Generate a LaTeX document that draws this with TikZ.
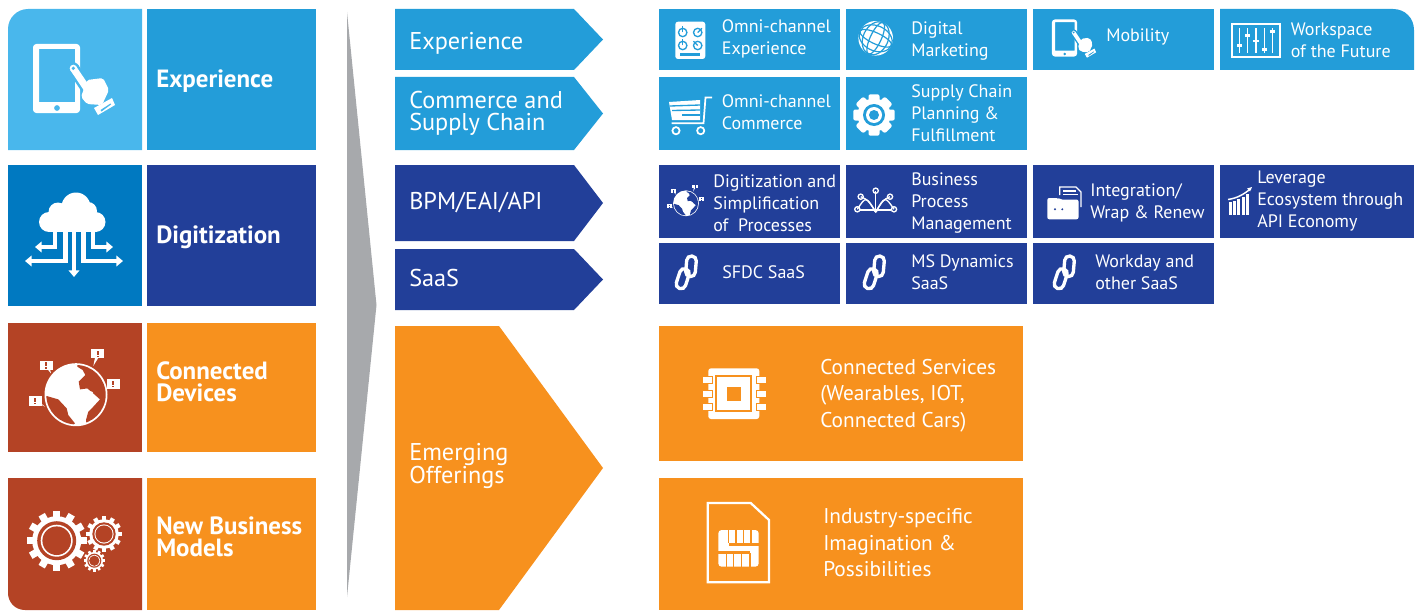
\documentclass[tikz,border=0pt]{standalone}
\usepackage{fontspec}
\setmainfont{PT Sans}
\usepackage{xcolor}
\usepackage{tikz}
\usetikzlibrary{arrows.meta}

\definecolor{lightsky}{HTML}{49B7EC}
\definecolor{skyblue}{HTML}{239DD9}
\definecolor{deepblue}{HTML}{0079C1}
\definecolor{navyblue}{HTML}{223F99}
\definecolor{rust}{HTML}{B44325}
\definecolor{amber}{HTML}{F7911E}
\definecolor{wedgegrey}{HTML}{A7A9AC}

\tikzset{
    % phone with a pointing hand, #1 is the colour behind it
    pics/phonehand/.style={code={
        \fill[white,even odd rule] [rounded corners=2.5pt] (-23.5,-34.5) rectangle (23.5,34.5) [sharp corners] (-17.5,-29.5) rectangle (18.5,23.5) (0.5,29.5) circle[radius=3];
        \fill[#1] (16.8,-10.2) circle[radius=6];
        \fill[#1] (21.8,-13.5) -- (35.2,6.5) -- (25.2,13.1) -- (11.8,-6.9) -- cycle;
        \fill[white] (16.8,-10.2) circle[radius=3.6];
        \fill[white] (19.7,-12.15) -- (33.1,7.85) -- (27.3,11.75) -- (13.9,-8.25) -- cycle;
        \fill[#1] (16.8,-10.2) circle[radius=1.8];
        \fill[white,rounded corners=1.5pt] (24.5,18.5) -- (30.5,1.5) -- (46.5,-.5) -- (52.5,11.5) -- (45.5,26.5) -- (30.5,25.5) -- cycle;
        \fill[white] (37.5,29.5) -- (55.5,19.5) -- (58.5,26.5) -- (41.5,36.5) -- cycle;
        \fill[#1] (44,31.5) -- (54,25) -- (54.5,26) -- (45,33) -- cycle;
    }},
    % earth with four small speech bubbles
    pics/alertglobe/.style={code={
        \fill[white] (0,0) circle[radius=31.5];
        \begin{scope}
            \clip (0,0) circle[radius=29.7];
            \fill[#1] (1.3,-28) -- (6.7,-24.7) -- (9.3,-19.7) -- (2.7,-13) -- (4,-5.3) -- (11.3,-6.3) -- (17.3,-1.3) -- (24,4.7) -- (17.3,12) -- (12.3,17) -- (10,25.3) -- (12,40) -- (40,30) -- (40,-40) -- (1.3,-40) -- cycle;
            \fill[#1] (-29.3,1.3) -- (-17.7,4.7) -- (-9.3,13.7) -- (-7.7,20.3) -- (-1,28.7) -- (-20,40) -- (-45,10) -- cycle;
            \fill[white] (13,5) ellipse[x radius=3.5, y radius=2];
            \fill[white] (13,-2) ellipse[x radius=4, y radius=1.6];
        \end{scope}
        \foreach \cx/\cy/\tx/\ty in {-29.7/-29.4/-25/-21.3, 21.8/-41/17.3/-28.7, 37/-10.8/30/-6, -41/6.2/-31/12} {
            \fill[white] (\cx-2,\cy) -- (\cx+3,\cy) -- (\tx,\ty) -- cycle;
            \fill[white] (\cx-6.5,\cy-4.7) rectangle (\cx+6.5,\cy+4.7);
            \fill[#1] (\cx-1,\cy-3) rectangle (\cx+1,\cy+1);
            \fill[#1] (\cx-1,\cy+1.8) rectangle (\cx+1,\cy+3.2);
        }
    }},
    % toothed wheel with a thin ring inside
    pics/cogwheel/.style={code={
        \foreach \ang in {0,30,...,330} {
            \fill[white,rotate=\ang] (-3.6,-30) rectangle (3.6,-22);
        }
        \fill[white] (0,0) circle[radius=24.5];
        \fill[#1] (0,0) circle[radius=19.5];
        \fill[white] (0,0) circle[radius=16];
        \fill[#1] (0,0) circle[radius=14.3];
    }},
    % two chain links
    pics/chainlink/.style={code={
        \draw[white,line width=2.5pt,rounded corners=3.5pt,rotate around={-5:(5,-5.7)}] (0.2,-16) rectangle (9.8,4.6);
        \draw[white,line width=2.5pt,rounded corners=3.5pt,rotate around={-18:(-3.3,6.7)}] (-8.1,-3.6) rectangle (1.5,17);
    }},
    % labels
    paneltext/.style={font=\fontsize{18.7}{16.5}\selectfont\bfseries, text=white, anchor=west, align=left, inner sep=0pt},
    chevrontext/.style={font=\fontsize{18.2}{16.5}\selectfont, text=white, anchor=west, align=left, inner sep=0pt},
    tiletext/.style={font=\fontsize{13.5}{16.5}\selectfont, text=white, anchor=west, align=left, inner sep=0pt},
    bigtiletext/.style={font=\fontsize{16}{19.9}\selectfont, text=white, anchor=west, align=left, inner sep=0pt}
}

\begin{document}
\begin{tikzpicture}[x=0.75pt, y=-0.75pt]
    \useasboundingbox (0,0) rectangle (1423,610);

    % Left panels
    \fill[lightsky] (8,150) -- (8,29) .. controls (8,18) and (17,9) .. (28,9) -- (142,9) -- (142,150) -- cycle;
    \fill[deepblue] (8,165) rectangle (142,306);
    \fill[rust] (8,323) rectangle (142,452);
    \fill[rust] (8,478) -- (142,478) -- (142,610) -- (25,610) .. controls (15,610) and (8,602) .. (8,593) -- cycle;
    \fill[skyblue] (147,9) rectangle (316,150);
    \fill[navyblue] (147,165) rectangle (316,306);
    \fill[amber] (147,323) rectangle (316,452);
    \fill[amber] (147,478) rectangle (316,610);

    \node[paneltext] (panelexp) at (156,81) {Experience};
    \node[paneltext] (paneldig) at (156,237) {Digitization};
    \node[paneltext] (panelcon) at (156,382) {Connected\\Devices};
    \node[paneltext] (panelnew) at (156,537) {New Business\\Models};

    % Left panel icons
    \pic at (56.5,78.5) {phonehand=lightsky};
    \pic at (76,394.7) {alertglobe=rust};
    \pic at (56.7,540.7) {cogwheel=rust};
    \pic[scale=0.6] at (104,534) {cogwheel=rust};
    \pic[scale=0.36] at (94.3,560.7) {cogwheel=rust};

    % Cloud
    \fill[white] (76,207) circle[radius=14.5];
    \fill[white] (58,212) circle[radius=9.5];
    \fill[white] (49,222) circle[radius=10];
    \fill[white] (95.5,222) circle[radius=10];
    \fill[white] (88,211) circle[radius=9];
    \fill[white] (49,212) rectangle (95.5,232);
    \path[draw=white, line width=3.2pt, -{Triangle[length=5pt,width=8pt]}]
        (55,230) -- (55,247) -- (35,247);
    \path[draw=white, line width=3.2pt, -{Triangle[length=5pt,width=8pt]}]
        (65.5,230) -- (65.5,261) -- (25,261);
    \path[draw=white, line width=3.2pt, -{Triangle[length=5pt,width=8pt]}]
        (74,230) -- (74,277);
    \path[draw=white, line width=3.2pt, -{Triangle[length=5pt,width=8pt]}]
        (83.5,230) -- (83.5,261) -- (123,261);
    \path[draw=white, line width=3.2pt, -{Triangle[length=5pt,width=8pt]}]
        (93,230) -- (93,247) -- (113,247);

    % Grey wedge
    \fill[wedgegrey] (347,12) -- (376.5,305) -- (347,597) -- cycle;

    % Chevrons
    \foreach \ytop/\ybot/\col in {9/70/skyblue, 77/150/skyblue, 165/241/navyblue, 249/310/navyblue} {
        \fill[\col] (395,\ytop) -- (574,\ytop) -- (603,{(\ytop+\ybot)/2}) -- (574,\ybot) -- (395,\ybot) -- cycle;
    }
    \fill[amber] (395,326) -- (499,326) -- (603,468) -- (499,610) -- (395,610) -- cycle;

    \node[chevrontext] (chevexp) at (409,43) {Experience};
    \node[chevrontext] (chevcom) at (409,113) {Commerce and\\Supply Chain};
    \node[chevrontext] (chevbpm) at (409,203) {BPM/EAI/API};
    \node[chevrontext] (chevsaas) at (409,278) {SaaS};
    \node[chevrontext] (chevemg) at (409,466) {Emerging\\Offerings};

    % Tiles
    \foreach \xa/\xb/\ya/\yb/\col in {
        659/840/9/70/skyblue, 846/1027/9/70/skyblue, 1033/1214/9/70/skyblue,
        659/840/77/150/skyblue, 846/1027/77/150/skyblue,
        659/840/165/238/navyblue, 846/1027/165/238/navyblue, 1033/1214/165/238/navyblue, 1220/1414/165/238/navyblue,
        659/840/243/304/navyblue, 846/1027/243/304/navyblue, 1033/1214/243/304/navyblue,
        659/1023/326/461/amber, 659/1023/478/610/amber} {
        \fill[\col] (\xa,\ya) rectangle (\xb,\yb);
    }
    \fill[skyblue] (1220,9) -- (1393,9) .. controls (1405,9) and (1414,18) .. (1414,30) -- (1414,70) -- (1220,70) -- cycle;

    \node[tiletext] (omniexp) at (721.6,39) {Omni-channel\\Experience};
    \node[tiletext] (digmark) at (911,41) {Digital\\Marketing};
    \node[tiletext] (mobility) at (1106,37) {Mobility};
    \node[tiletext] (workspace) at (1290.5,40) {Workspace\\of the Future};
    \node[tiletext] (omnicom) at (721.6,112) {Omni-channel\\Commerce};
    \node[tiletext] (supply) at (911,113) {Supply Chain\\Planning \&\\Fulfillment};
    \node[tiletext] (digsimp) at (713,203) {Digitization and\\Simplification\\of~~Processes};
    \node[tiletext] (bpm) at (911,203) {Business\\Process\\Management};
    \node[tiletext] (wrap) at (1090,203) {Integration/\\Wrap \& Renew};
    \node[tiletext] (leverage) at (1257,201) {Leverage\\Ecosystem through\\API Economy};
    \node[tiletext] (sfdc) at (722,272) {SFDC SaaS};
    \node[tiletext] (dynamics) at (911,272) {MS Dynamics\\SaaS};
    \node[tiletext] (workday) at (1095,272) {Workday and\\other SaaS};
    \node[bigtiletext] (services) at (820,395.5) {Connected Services\\(Wearables, IOT,\\Connected Cars)};
    \node[bigtiletext] (industry) at (823,543) {Industry-specific\\Imagination \&\\Possibilities};

    % Tile icons
    \pic[scale=0.54] at (1064.5,38) {phonehand=skyblue};
    \pic[scale=0.41] at (686,203.3) {alertglobe=navyblue};
    \pic at (686,272) {chainlink};
    \pic at (874,272) {chainlink};
    \pic at (1064,272) {chainlink};

    % Dials
    \fill[white,rounded corners=2pt] (675.3,21.7) rectangle (705.3,59);
    \foreach \dx/\dy/\ang in {682.7/32.5/0, 697.7/32.5/45, 682.7/45.5/0, 697.7/45.5/-45} {
        \draw[skyblue,line width=1pt] (\dx,\dy) circle[radius=4.2];
        \draw[skyblue,line width=1pt] (\dx,\dy) -- ++(\ang-90:6);
    }
    \fill[skyblue] (680,53) rectangle (700,56.5);

    % Wire globe
    \fill[white] (875.7,38.3) circle[radius=17.3];
    \begin{scope}[rotate around={-25:(875.7,38.3)}, skyblue, line width=0.9pt]
        \draw (875.7,38.3) ellipse[x radius=5.5, y radius=17.3];
        \draw (875.7,38.3) ellipse[x radius=12.5, y radius=17.3];
        \draw (875.7,38.3) ellipse[x radius=17.3, y radius=5.5];
        \draw (875.7,38.3) ellipse[x radius=17.3, y radius=12.5];
    \end{scope}

    % Sliders
    \draw[white,line width=1.3pt] (1231.7,24.3) rectangle (1280,56.7);
    \foreach \sx/\sy in {1239.3/45.7, 1247.7/35.7, 1256/41, 1264.7/49.3, 1272.7/31.7} {
        \draw[white,line width=0.9pt] (\sx,28.3) -- (\sx,53.3);
        \fill[white] (\sx-2.6,\sy-1.4) rectangle (\sx+2.6,\sy+1.4);
    }

    % Cart
    \fill[white] (669,102) -- (700,100) -- (700,120) -- (672,120) -- cycle;
    \draw[skyblue,line width=1pt] (670,106) -- (700,105);
    \draw[skyblue,line width=1pt] (672,110.5) -- (700,110);
    \draw[skyblue,line width=1pt] (682,115) -- (700,115);
    \draw[white,line width=1.3pt] (671.7,123.3) -- (703.5,123.3) -- (705.5,97.5) -- (712,97.5);
    \draw[white,line width=1.3pt] (676,130.7) circle[radius=3.6];
    \draw[white,line width=1.3pt] (700.7,130.7) circle[radius=3.6];

    % Chunky gear
    \foreach \ang in {0,45,...,315} {
        \fill[white,rounded corners=1.5pt,rotate around={\ang:(874,115)}] (868.5,94.3) rectangle (879.5,104);
    }
    \fill[white] (874,115) circle[radius=16.5];
    \fill[skyblue] (874,115) circle[radius=11];
    \fill[white] (874,115) circle[radius=8];
    \fill[skyblue] (874,115) circle[radius=5];

    % Branching fan
    \foreach \nx/\ny/\bx/\by in {857.3/209.3/866/196, 860.7/196.7/868/200, 875.7/190.7/875.7/200, 890/196.7/883/200, 894/209.3/885/196} {
        \draw[white,line width=1pt] (875.7,212) .. controls (\bx,\by) .. (\nx,\ny);
        \draw[white,line width=1pt] (\nx,\ny) circle[radius=2.6];
    }
    \draw[white,line width=1pt] (860,210) -- (891.4,210);
    \fill[white] (873,210) -- (878.4,210) -- (875.7,213) -- cycle;

    % Folder
    \draw[white,line width=1pt] (1059.8,195) -- (1059.8,187) -- (1076,187) -- (1081,192) -- (1081,207);
    \draw[white,line width=0.9pt] (1063,191) -- (1076,191);
    \draw[white,line width=0.9pt] (1063,194.5) -- (1078,194.5);
    \fill[white,rounded corners=1.5pt] (1047.3,198) -- (1058,198) -- (1060,199.5) -- (1078.5,199.5) -- (1078.5,219.3) -- (1047.3,219.3) -- cycle;
    \fill[navyblue] (1055,209.3) circle[radius=1.1];
    \fill[navyblue] (1062.3,209.3) circle[radius=1.1];

    % Rising bars
    \foreach \bx/\btop in {1229/202, 1233.2/201, 1237.4/199, 1241.6/197, 1245.8/194} {
        \fill[white] (\bx,\btop) rectangle (\bx+3,215);
    }
    \draw[white,line width=1.1pt] (1228,199.5) .. controls (1238,198) and (1244,194) .. (1251,188.5);
    \fill[white] (1252,187) -- (1247,188.5) -- (1250,191.5) -- cycle;

    % Chip
    \fill[white,rounded corners=2pt] (708.3,368.3) rectangle (759.3,419);
    \draw[amber,line width=1.3pt] (716,376) rectangle (751,410.7);
    \fill[amber] (726.7,386.7) rectangle (741,400.7);
    \foreach \py in {380,394,407} {
        \draw[amber,line width=1pt,fill=white] (702,\py-3.5) rectangle (712.7,\py+3.5);
        \draw[amber,line width=1pt,fill=white] (756.7,\py-3.5) rectangle (767,\py+3.5);
    }

    % SIM card
    \draw[white,line width=1.7pt] (707.7,503) -- (750.7,503) -- (769,520) -- (769,582.3) -- (707.7,582.3) -- cycle;
    \fill[white,rounded corners=2.5pt] (718.3,530) rectangle (758.7,566.7);
    \foreach \gx in {728.5,736,743.5,751} {
        \draw[amber,line width=1.2pt] (\gx,530) -- (\gx,543);
    }
    \foreach \gx in {726.5,733.5,741.5,750} {
        \draw[amber,line width=1.2pt] (\gx,553) -- (\gx,566.7);
    }
    \fill[amber] (728.5,543) rectangle (758.7,546);
    \fill[amber] (718.3,551) rectangle (750,554);
\end{tikzpicture}
\end{document}
